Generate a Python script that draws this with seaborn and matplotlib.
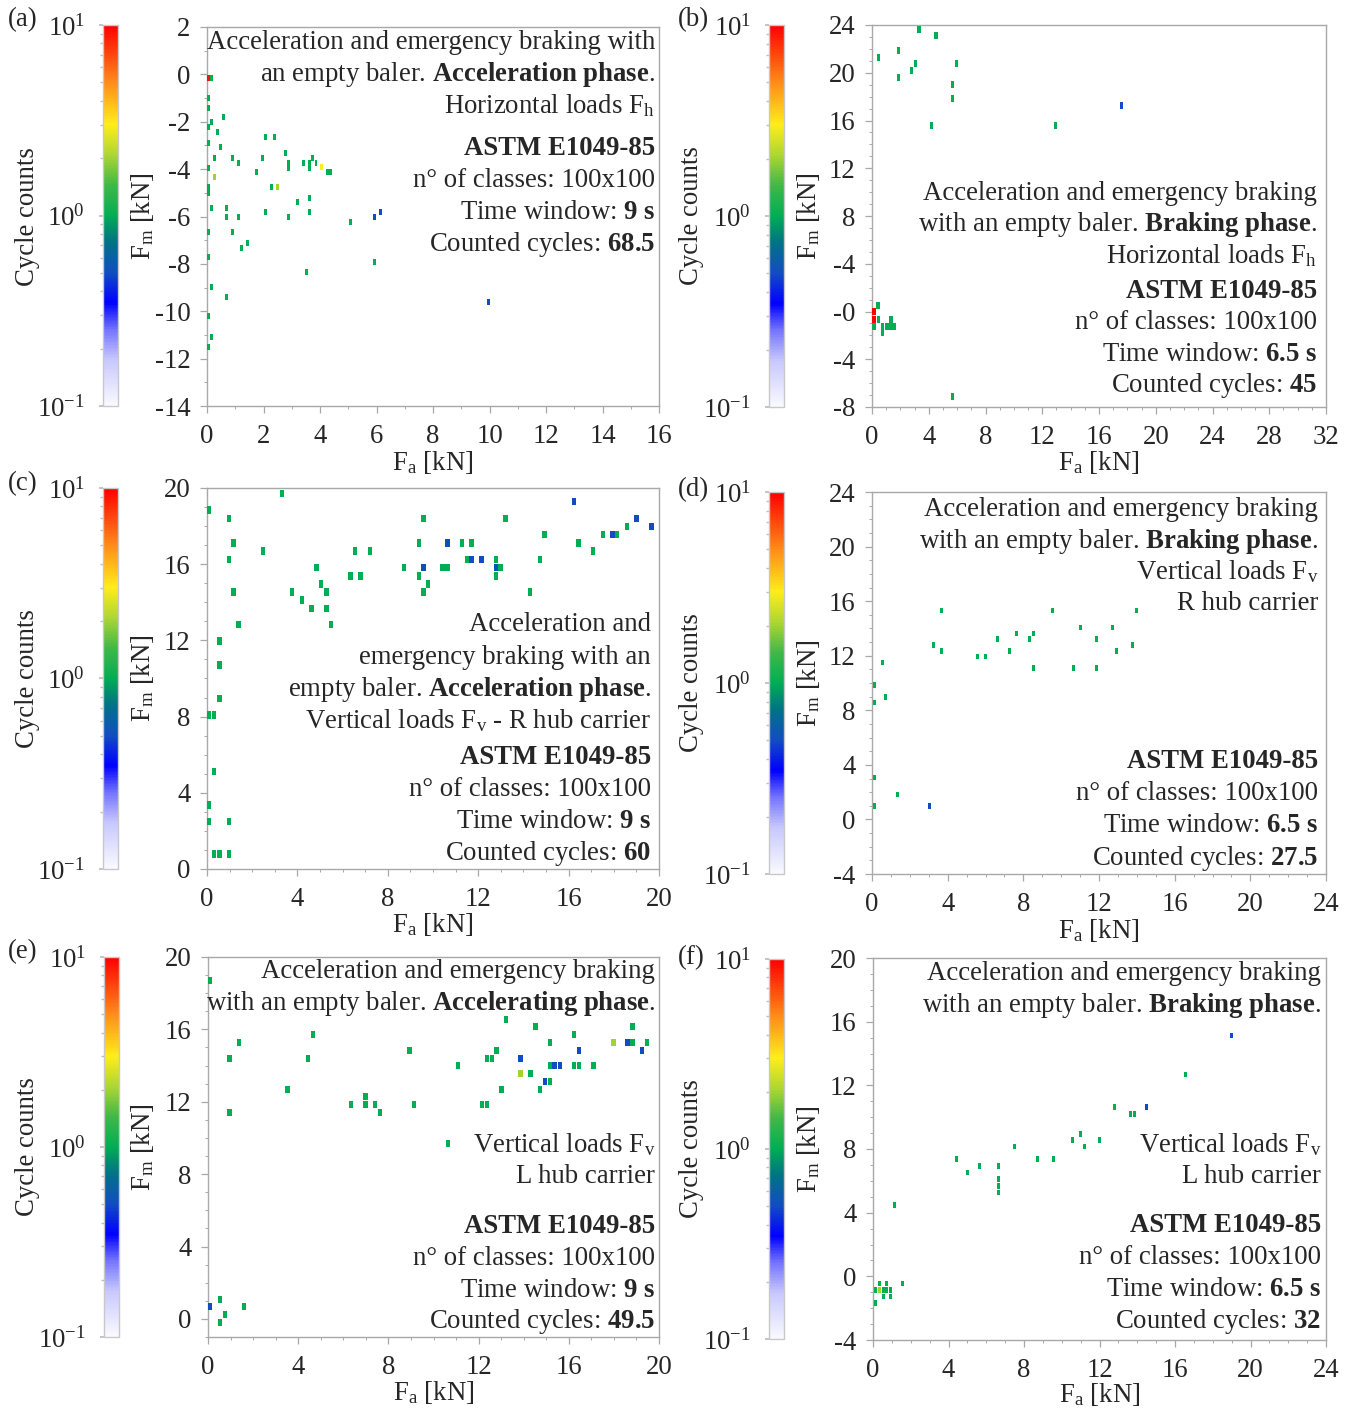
import numpy as np
import pandas as pd
import matplotlib
matplotlib.use("Agg")
import matplotlib.pyplot as plt
import seaborn as sns
from matplotlib.colors import LogNorm, LinearSegmentedColormap
from matplotlib.ticker import MultipleLocator, AutoMinorLocator, FixedLocator, FixedFormatter
from matplotlib.path import Path
from matplotlib.cm import ScalarMappable

# ---------------- rainflow matrices (Fa [kN], Fm [kN], cycle count) ----------------
fa_a = [0.05, 0.17, 0.06, 0.06, 0.17, 0.06, 0.59, 0.38, 0.06, 0.48, 0.27, 0.06, 0.27, 0.06, 0.06,
        0.17, 0.70, 0.70, 1.12, 0.91, 1.12, 0.06, 0.91, 1.23, 1.44, 0.06, 0.17, 0.70, 0.06, 0.17,
        0.06, 1.76, 1.95, 2.06, 2.38, 2.79, 2.90, 2.90, 2.27, 2.48, 2.06, 2.90, 3.21, 3.42, 3.63,
        3.63, 3.75, 3.86, 4.06, 4.26, 4.37, 3.63, 3.63, 3.53, 5.09, 5.93, 6.15, 5.93, 9.95]
fm_a = [-0.14, -0.14, -1.00, -1.43, -2.03, -2.24, -1.81, -2.45, -2.90, -3.07, -3.53, -3.95, -4.34,
        -4.76, -5.00, -5.63, -5.63, -6.02, -6.02, -3.53, -3.74, -6.65, -6.65, -7.31, -7.10, -7.73,
        -8.99, -9.38, -10.22, -11.09, -11.50, -4.14, -3.53, -2.66, -2.66, -3.32, -3.74, -3.95,
        -4.76, -4.76, -5.81, -6.02, -5.39, -3.74, -3.74, -3.95, -3.53, -3.74, -3.91, -4.14, -4.14,
        -5.20, -5.81, -8.33, -6.23, -6.02, -5.81, -7.91, -9.60]
n_a = [9, 1, 1, 1, 1, 1, 1, 1, 1, 1, 1, 1, 2, 1, 1, 1, 1, 1, 1, 1, 1, 1, 1, 1, 1, 1, 1, 1, 1, 1,
       1, 1, 1, 1, 1, 1, 1, 1, 1, 2, 1, 1, 1, 1, 1, 1, 1, 1, 3, 1, 1, 1, 1, 1, 1, 0.5, 0.5, 1, 0.5]

fa_b = [3.33, 4.50, 0.46, 1.88, 3.06, 2.78, 1.88, 5.96, 5.68, 5.68, 17.60, 4.20, 12.93, 0.43, 0.15,
        0.15, 0.15, 0.46, 0.74, 0.74, 1.05, 1.33, 1.33, 1.60, 5.68]
fm_b = [23.64, 23.08, 21.30, 21.90, 20.74, 20.15, 19.60, 20.74, 18.98, 17.83, 17.28, 15.55, 15.55,
        0.48, 0.00, -0.70, -1.25, -0.70, -1.25, -1.80, -1.25, -0.70, -1.25, -1.25, -7.10]
n_b = [1, 1, 1, 1, 1, 1, 1, 1, 1, 1, 0.5, 1, 1, 1, 10, 10, 1, 1, 1, 1, 1, 1, 1, 1, 1]

fa_c = [3.32, 0.09, 0.98, 1.17, 0.98, 2.47, 1.17, 1.39, 0.55, 0.55, 0.55, 0.09, 0.32, 0.32, 0.09,
        0.09, 0.98, 0.32, 0.55, 0.98, 3.77, 4.20, 4.62, 5.05, 4.84, 5.28, 5.28, 5.49, 6.35, 6.79,
        6.56, 7.20, 8.71, 9.37, 9.37, 9.58, 9.58, 9.58, 9.78, 10.42, 10.65, 10.65, 11.29, 11.52,
        11.71, 11.71, 12.14, 12.78, 12.78, 12.99, 12.78, 13.21, 14.29, 14.74, 14.93, 16.23, 16.44,
        17.08, 17.51, 17.95, 18.15, 18.59, 19.00, 19.66]
fm_c = [19.72, 18.85, 18.41, 17.12, 16.25, 16.68, 14.54, 12.84, 11.97, 10.70, 8.95, 8.08, 8.08,
        5.11, 3.37, 2.50, 2.50, 0.79, 0.79, 0.79, 14.54, 14.12, 13.68, 14.97, 15.83, 14.54, 13.68,
        12.84, 15.39, 15.39, 16.68, 16.68, 15.83, 15.39, 17.12, 18.41, 15.83, 14.54, 14.97, 15.83,
        15.83, 17.12, 17.12, 16.25, 16.25, 17.12, 16.25, 16.25, 15.83, 15.83, 15.39, 18.41, 14.54,
        16.25, 17.56, 19.28, 17.12, 16.68, 17.56, 17.56, 17.56, 17.98, 18.41, 17.98]
n_c = [1, 1, 1, 1, 1, 1, 1, 1, 1, 1, 1, 1, 1, 1, 1, 1, 1, 1, 1, 1, 1, 1, 1, 1, 1, 1, 1, 1, 1, 1,
       1, 1, 1, 1, 1, 1, 0.5, 1, 1, 1, 1, 0.5, 1, 1, 0.5, 1, 0.5, 1, 0.5, 1, 1, 1, 1, 1, 1, 0.5,
       1, 1, 1, 0.5, 1, 1, 0.5, 0.5]

fa_d = [3.68, 9.56, 13.96, 11.04, 12.73, 7.66, 8.52, 6.62, 8.31, 11.88, 3.26, 13.75, 3.68, 7.25,
        12.92, 5.58, 6.00, 8.52, 10.63, 11.88, 0.53, 0.12, 0.12, 0.74, 0.12, 1.37, 0.12, 3.06]
fm_d = [15.32, 15.32, 15.32, 14.05, 14.05, 13.63, 13.63, 13.21, 13.21, 13.21, 12.80, 12.80, 12.36,
        12.36, 12.36, 11.94, 11.94, 11.09, 11.09, 11.09, 11.50, 9.84, 8.57, 8.98, 3.09, 1.84, 0.99,
        0.99]
n_d = [1] * 27 + [0.5]

fa_e = [0.06, 13.22, 14.52, 18.83, 4.65, 16.24, 1.38, 15.17, 17.98, 18.60, 18.83, 19.47, 8.93,
        12.80, 16.45, 19.26, 0.96, 4.42, 12.37, 12.60, 13.86, 11.09, 15.17, 15.37, 15.60, 16.24,
        16.45, 17.09, 13.86, 14.30, 14.96, 15.17, 3.53, 13.01, 14.73, 6.99, 6.35, 6.99, 7.42, 7.63,
        9.14, 12.14, 12.37, 0.96, 10.65, 0.06, 0.53, 0.76, 0.53, 1.60]
fm_e = [18.71, 16.56, 16.14, 16.14, 15.69, 15.69, 15.27, 15.27, 15.27, 15.27, 15.27, 15.27, 14.85,
        14.85, 14.85, 14.85, 14.41, 14.41, 14.41, 14.41, 14.41, 13.98, 13.98, 13.98, 13.98, 13.98,
        13.98, 13.98, 13.56, 13.56, 13.12, 13.12, 12.70, 12.70, 12.70, 12.27, 11.83, 11.83, 11.83,
        11.41, 11.83, 11.83, 11.83, 11.41, 9.70, 0.68, 1.08, 0.22, -0.18, 0.68]
n_e = [1, 1, 1, 1, 1, 1, 1, 1, 2, 0.5, 1, 1, 1, 1, 0.5, 0.5, 1, 1, 1, 1, 0.5, 1, 1, 0.5, 0.5, 1,
       1, 1, 2, 1, 0.5, 1, 1, 1, 1, 1, 1, 1, 1, 1, 1, 1, 1, 1, 1, 0.5, 1, 1, 1, 1]

fa_f = [18.98, 16.53, 12.82, 14.47, 13.63, 13.87, 10.97, 10.56, 12.01, 11.18, 7.48, 4.40, 8.73,
        9.54, 5.63, 6.67, 5.02, 6.67, 6.67, 6.67, 1.13, 1.55, 0.32, 0.74, 0.12, 0.32, 0.53, 0.74,
        0.95, 0.53, 0.95, 0.12]
fm_f = [15.14, 12.68, 10.63, 10.63, 10.21, 10.21, 8.95, 8.58, 8.58, 8.16, 8.16, 7.36, 7.36, 7.36,
        6.94, 6.94, 6.52, 6.10, 5.68, 5.27, 4.47, -0.44, -0.44, -0.44, -0.86, -0.86, -0.86, -0.86,
        -0.86, -1.27, -1.27, -1.69]
n_f = [0.5, 1, 1, 0.5, 1, 1, 1, 1, 1, 1, 1, 1, 1, 1, 1, 1, 1, 1, 1, 1, 1, 1, 1, 1, 1, 2, 1, 1,
       1, 1, 1, 1]

tick_b = [-8, -4, 0, 4, 8, 12, 16, 20, 24]
tick_b_labels = ["-8", "-4", "-0", "-4", "8", "12", "16", "20", "24"]

# ---------------- style ----------------
sns.set_theme(style="white")
plt.rcParams.update({
    "font.family": ["Liberation Serif", "DejaVu Serif"],
    "mathtext.fontset": "custom",
    "mathtext.rm": "Liberation Serif",
    "mathtext.it": "Liberation Serif:italic",
    "mathtext.bf": "Liberation Serif:bold",
    "axes.unicode_minus": False,
    "font.size": 19.3,
})
FS = 19.3

cmap = LinearSegmentedColormap.from_list("cycles", [
    (0.00, (0.98, 0.98, 1.00)),
    (0.12, (0.78, 0.78, 1.00)),
    (0.20, (0.45, 0.45, 1.00)),
    (0.27, (0.00, 0.00, 1.00)),
    (0.35, (0.07, 0.30, 0.76)),
    (0.43, (0.00, 0.45, 0.52)),
    (0.50, (0.00, 0.68, 0.33)),
    (0.58, (0.25, 0.72, 0.28)),
    (0.66, (0.68, 0.84, 0.20)),
    (0.74, (1.00, 0.93, 0.10)),
    (0.85, (1.00, 0.55, 0.10)),
    (1.00, (1.00, 0.00, 0.00)),
])
norm = LogNorm(vmin=0.1, vmax=10)

W, H = 1355, 1414
fig = plt.figure(figsize=(W / 100, H / 100), dpi=100)


def box(l, t, r, b):
    return [l / W, 1 - b / H, (r - l) / W, (b - t) / H]


def ftext(x, y, s, **kw):
    fig.text(x / W, 1 - y / H, s, fontsize=FS, **kw)


def cell_marker(w_px, h_px):
    hw = w_px / h_px
    verts = [(-hw, -1), (hw, -1), (hw, 1), (-hw, 1), (-hw, -1)]
    codes = [Path.MOVETO, Path.LINETO, Path.LINETO, Path.LINETO, Path.CLOSEPOLY]
    return Path(verts, codes), (h_px * 0.72) ** 2


GRAY = "#a8a8a8"

panels = [
    dict(tag="(a)", fa=fa_a, fm=fm_a, n=n_a, ax=(207, 27, 659, 406), cb=(103, 25, 118, 406),
         xl=(0, 16), xs=2, yl=(-14, 2), ys=2, minor=2, cell=(2.9, 6),
         cyc_x=27, fm_x=143, tag_xy=(8, 20), xlab_y=462, tx=655,
         lines=[(41, "Acceleration and emergency braking with", "normal"),
                (73, r"an empty baler. $\mathbf{Acceleration\ phase}$.", "normal"),
                (105, r"Horizontal loads F$_\mathrm{h}$", "normal"),
                (147, "ASTM E1049-85", "bold"),
                (179, "n° of classes: 100x100", "normal"),
                (211, r"Time window: $\mathbf{9\ s}$", "normal"),
                (243, r"Counted cycles: $\mathbf{68.5}$", "normal")]),
    dict(tag="(b)", fa=fa_b, fm=fm_b, n=n_b, ax=(872, 25, 1326, 407), cb=(769, 25, 784, 407),
         xl=(0, 32), xs=4, yl=(-8, 24), ys=4, minor=4, cell=(3.5, 7),
         cyc_x=692, fm_x=808, tag_xy=(678, 20), xlab_y=462, tx=1317,
         lines=[(192, "Acceleration and emergency braking", "normal"),
                (223, r"with an empty baler. $\mathbf{Braking\ phase}$.", "normal"),
                (255, r"Horizontal loads F$_\mathrm{h}$", "normal"),
                (290, "ASTM E1049-85", "bold"),
                (321, "n° of classes: 100x100", "normal"),
                (353, r"Time window: $\mathbf{6.5\ s}$", "normal"),
                (384, r"Counted cycles: $\mathbf{45}$", "normal")]),
    dict(tag="(c)", fa=fa_c, fm=fm_c, n=n_c, ax=(207, 488, 659, 869), cb=(103, 488, 118, 869),
         xl=(0, 20), xs=4, yl=(0, 20), ys=4, minor=4, cell=(4.4, 7.5),
         cyc_x=27, fm_x=143, tag_xy=(8, 484), xlab_y=925, tx=651,
         lines=[(623, "Acceleration and", "normal"),
                (656, "emergency braking with an", "normal"),
                (688, r"empty baler. $\mathbf{Acceleration\ phase}$.", "normal"),
                (720, r"Vertical loads F$_\mathrm{v}$ - R hub carrier", "normal"),
                (756, "ASTM E1049-85", "bold"),
                (788, "n° of classes: 100x100", "normal"),
                (820, r"Time window: $\mathbf{9\ s}$", "normal"),
                (852, r"Counted cycles: $\mathbf{60}$", "normal")]),
    dict(tag="(d)", fa=fa_d, fm=fm_d, n=n_d, ax=(872, 492, 1326, 874), cb=(769, 492, 784, 874),
         xl=(0, 24), xs=4, yl=(-4, 24), ys=4, minor=4, cell=(3.0, 5.5),
         cyc_x=692, fm_x=808, tag_xy=(678, 490), xlab_y=930, tx=1318,
         lines=[(508, "Acceleration and emergency braking", "normal"),
                (540, r"with an empty baler. $\mathbf{Braking\ phase}$.", "normal"),
                (571, r"Vertical loads F$_\mathrm{v}$", "normal"),
                (602, "R hub carrier", "normal"),
                (760, "ASTM E1049-85", "bold"),
                (792, "n° of classes: 100x100", "normal"),
                (824, r"Time window: $\mathbf{6.5\ s}$", "normal"),
                (857, r"Counted cycles: $\mathbf{27.5}$", "normal")]),
    dict(tag="(e)", fa=fa_e, fm=fm_e, n=n_e, ax=(208, 957, 659, 1337), cb=(104, 957, 119, 1337),
         xl=(0, 20), xs=4, yl=(-1, 20), ys=4, minor=4, cell=(4.3, 7),
         cyc_x=27, fm_x=143, tag_xy=(8, 952), xlab_y=1393, tx=655,
         lines=[(970, "Acceleration and emergency braking", "normal"),
                (1002, r"with an empty baler. $\mathbf{Accelerating\ phase}$.", "normal"),
                (1144, r"Vertical loads F$_\mathrm{v}$", "normal"),
                (1175, "L hub carrier", "normal"),
                (1225, "ASTM E1049-85", "bold"),
                (1257, "n° of classes: 100x100", "normal"),
                (1289, r"Time window: $\mathbf{9\ s}$", "normal"),
                (1320, r"Counted cycles: $\mathbf{49.5}$", "normal")]),
    dict(tag="(f)", fa=fa_f, fm=fm_f, n=n_f, ax=(873, 958, 1326, 1340), cb=(769, 959, 784, 1339),
         xl=(0, 24), xs=4, yl=(-4, 20), ys=4, minor=4, cell=(3.0, 5.5),
         cyc_x=692, fm_x=808, tag_xy=(678, 958), xlab_y=1395, tx=1321,
         lines=[(972, "Acceleration and emergency braking", "normal"),
                (1004, r"with an empty baler. $\mathbf{Braking\ phase}$.", "normal"),
                (1144, r"Vertical loads F$_\mathrm{v}$", "normal"),
                (1175, "L hub carrier", "normal"),
                (1224, "ASTM E1049-85", "bold"),
                (1256, "n° of classes: 100x100", "normal"),
                (1288, r"Time window: $\mathbf{6.5\ s}$", "normal"),
                (1320, r"Counted cycles: $\mathbf{32}$", "normal")]),
]

for p in panels:
    l, t, r, b = p["ax"]
    ax = fig.add_axes(box(l, t, r, b))
    df = pd.DataFrame({"Fa": p["fa"], "Fm": p["fm"], "n": p["n"]})
    mk, s = cell_marker(*p["cell"])
    sns.scatterplot(data=df, x="Fa", y="Fm", hue="n", hue_norm=norm, palette=cmap,
                    marker=mk, s=s, linewidth=0, legend=False, ax=ax, zorder=3)
    ax.set_xlim(*p["xl"])
    ax.set_ylim(*p["yl"])
    ax.set_xlabel("")
    ax.set_ylabel("")
    ax.xaxis.set_major_locator(MultipleLocator(p["xs"]))
    ax.yaxis.set_major_locator(MultipleLocator(p["ys"]))
    ax.xaxis.set_minor_locator(AutoMinorLocator(p["minor"]))
    ax.yaxis.set_minor_locator(AutoMinorLocator(p["minor"]))
    if p["tag"] == "(b)":
        ax.yaxis.set_major_locator(FixedLocator(tick_b))
        ax.yaxis.set_major_formatter(FixedFormatter(tick_b_labels))
    ax.tick_params(which="both", direction="out", color=GRAY, labelsize=FS,
                   bottom=True, left=True, top=False, right=False)
    ax.tick_params(which="major", length=5, width=0.9)
    ax.tick_params(which="minor", length=2.5, width=0.7)
    ax.tick_params(axis="x", which="major", pad=8)
    ax.tick_params(axis="y", which="major", pad=7)
    for sp in ax.spines.values():
        sp.set_color(GRAY)
        sp.set_linewidth(1.0)
    ax.set_facecolor("white")

    # colour bar on the left of every matrix
    cl, ct, cr, cbm = p["cb"]
    cax = fig.add_axes(box(cl, ct, cr, cbm))
    sm = ScalarMappable(norm=norm, cmap=cmap)
    cbar = fig.colorbar(sm, cax=cax)
    cax.yaxis.set_ticks_position("left")
    cax.yaxis.set_label_position("left")
    cbar.outline.set_edgecolor("#c8c8c8")
    cbar.outline.set_linewidth(1.0)
    cax.tick_params(which="both", direction="out", color="#bdbdbd", labelsize=FS)
    cax.tick_params(which="major", length=3, pad=10)
    cax.tick_params(which="minor", length=2)

    ym = (t + b) / 2
    ftext(p["cyc_x"], ym, "Cycle counts", rotation=90, ha="center", va="center")
    ftext(p["fm_x"], ym, r"F$_\mathrm{m}$ [kN]", rotation=90, ha="center", va="center")
    ftext((l + r) / 2, p["xlab_y"], r"F$_\mathrm{a}$ [kN]", ha="center", va="center")
    ftext(p["tag_xy"][0], p["tag_xy"][1], p["tag"], ha="left", va="center")
    for y, s_, w in p["lines"]:
        ftext(p["tx"], y + 8, s_, ha="right", va="baseline", fontweight=w)

fig.savefig("out.png", dpi=100, facecolor="white")
